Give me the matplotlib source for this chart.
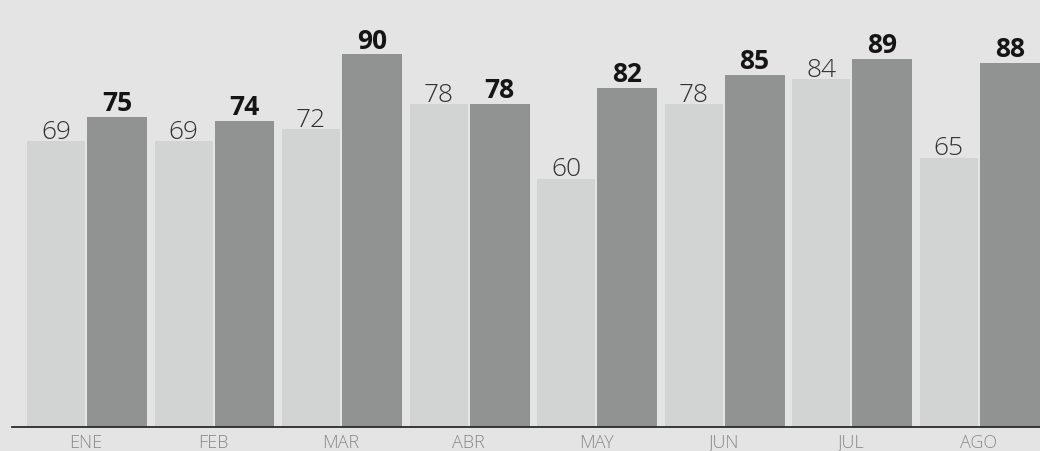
import matplotlib
matplotlib.use("Agg")
import matplotlib.pyplot as plt
import numpy as np

# data
months = ["ENE", "FEB", "MAR", "ABR", "MAY", "JUN", "JUL", "AGO"]
serie_a = [69, 69, 72, 78, 60, 78, 84, 65]   # light bars
serie_b = [75, 74, 90, 78, 82, 85, 89, 88]   # dark bars

bg = "#e4e4e4"
light = "#d2d3d3"
dark = "#919392"

plt.rcParams["font.family"] = ["Open Sans", "DejaVu Sans"]

fig = plt.figure(figsize=(10.4, 4.52), dpi=100, facecolor=bg)
ax = fig.add_axes([12 / 1040, 24 / 452, 1028 / 1040, 428 / 452])
ax.set_facecolor(bg)

x = np.arange(len(months))
ax.bar(x - 0.235, serie_a, width=0.455, color=light, zorder=2)
ax.bar(x + 0.243, serie_b, width=0.47, color=dark, zorder=2)

# value labels
for xi, v in zip(x, serie_a):
    ax.annotate(str(v), (xi - 0.235, v), xytext=(0, 2.5), textcoords="offset points",
                ha="center", va="baseline", fontsize=19, color="#333333",
                fontweight="light")
for xi, v in zip(x, serie_b):
    ax.annotate(str(v), (xi + 0.243, v), xytext=(0, 5), textcoords="offset points",
                ha="center", va="baseline", fontsize=19, color="#151515",
                fontweight="bold")

ax.set_xlim(-0.58, 7.48)
ax.set_ylim(0, 103.4)

for s in ["top", "right", "left"]:
    ax.spines[s].set_visible(False)
ax.spines["bottom"].set_color("#2a2a2a")
ax.spines["bottom"].set_linewidth(1.3)
ax.set_yticks([])
ax.set_xticks(x)
ax.set_xticklabels(months, fontsize=13, color="#8a8a8a", fontweight="light")
ax.tick_params(axis="x", length=0, pad=4)

fig.savefig("out.png", dpi=100, facecolor=bg)
